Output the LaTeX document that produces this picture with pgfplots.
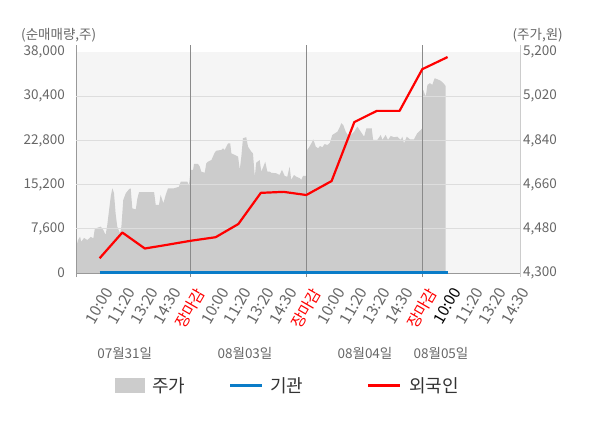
\documentclass[border=0pt]{standalone}
\usepackage{pgfplots}
\pgfplotsset{compat=1.18}
\usepackage{pgfplotstable}
\usepackage{fontspec}
\setmainfont{Noto Sans CJK KR}
\definecolor{txtgray}{HTML}{666666}
\definecolor{legtxt}{HTML}{333333}
\definecolor{areagray}{HTML}{CCCCCC}
\definecolor{bggray}{HTML}{F5F5F5}
\definecolor{gridgray}{HTML}{DDDDDD}
\definecolor{axisgray}{HTML}{999999}
\definecolor{rightaxis}{HTML}{CCCCCC}
\definecolor{sepgray}{HTML}{8A8A8A}
\definecolor{blueline}{HTML}{0A7CC8}
\definecolor{redline}{HTML}{FF0000}

\pgfplotstableread{
x y
0.073 4401
0.16 4434
0.25 4448
0.30 4427
0.42 4443
0.56 4434
0.71 4447
0.82 4441
0.88 4478
0.99 4484
1.14 4489
1.25 4475
1.35 4455
1.42 4495
1.50 4557
1.57 4611
1.64 4645
1.71 4625
1.78 4543
1.85 4489
1.97 4462
2.03 4489
2.11 4597
2.22 4625
2.36 4641
2.43 4645
2.50 4563
2.65 4559
2.72 4604
2.79 4629
3.44 4629
3.51 4577
3.65 4577
3.72 4618
3.84 4584
3.94 4618
4.04 4645
4.30 4645
4.51 4651
4.59 4672
4.87 4672
4.94 4658
5.02 4720
5.12 4720
5.16 4744
5.33 4744
5.41 4733
5.47 4713
5.62 4708
5.69 4747
5.76 4753
5.91 4760
6.05 4790
6.12 4798
6.34 4801
6.41 4808
6.48 4801
6.55 4814
6.63 4828
6.72 4828
6.77 4787
6.91 4781
7.06 4774
7.13 4720
7.20 4774
7.27 4849
7.41 4853
7.49 4814
7.63 4794
7.70 4787
7.78 4692
7.84 4749
7.99 4760
8.06 4713
8.18 4740
8.23 4753
8.32 4713
8.42 4713
8.49 4708
8.71 4706
8.85 4699
8.95 4720
9.07 4695
9.18 4692
9.28 4733
9.35 4679
9.47 4699
9.57 4692
9.72 4686
9.78 4679
9.86 4695
10.00 4695
10.04 4801
10.12 4812
10.22 4828
10.30 4844
10.41 4814
10.51 4808
10.59 4817
10.69 4812
10.79 4825
10.91 4821
11.02 4831
11.12 4862
11.27 4871
11.34 4875
11.45 4896
11.51 4910
11.59 4903
11.70 4875
11.84 4855
12.06 4875
12.20 4896
12.35 4875
12.49 4855
12.59 4889
12.82 4889
12.88 4842
13.06 4842
13.21 4862
13.28 4842
13.42 4862
13.52 4842
13.64 4858
13.78 4853
13.92 4855
14.07 4842
14.14 4855
14.21 4828
14.33 4855
14.47 4844
14.64 4844
14.78 4869
14.93 4882
15.00 4889
15.04 5045
15.15 5018
15.22 5066
15.33 5073
15.43 5066
15.53 5093
15.65 5089
15.79 5083
15.91 5073
16.00 5062
}\pricedata

\pgfplotstableread{
x y
1.09 2530
2.07 6960
3.04 4210
4.02 4860
5.00 5530
6.09 6150
7.07 8420
8.04 13780
9.02 13950
10.00 13410
11.09 15810
12.07 25950
13.04 27880
14.02 27880
15.00 35050
16.09 37130
}\foreigndata

\pgfplotstableread{
x y
1.09 0
5.00 0
10.00 0
15.00 0
16.09 0
}\instdata

\begin{document}
\begin{tikzpicture}
\path[use as bounding box] (0pt,0pt) rectangle (600pt,428pt);

% price axis (right)
\begin{axis}[
  at={(76pt,155pt)}, anchor=south west,
  width=444pt, height=228pt, scale only axis,
  xmin=0.073, xmax=19.211,
  ymin=4300, ymax=5228.5,
  axis x line=none,
  axis y line*=right,
  y axis line style={color=rightaxis, line width=0.8pt},
  xtick=\empty,
  ytick={4300,4480,4660,4840,5020,5200},
  major tick length=0pt,
  scaled ticks=false,
  yticklabel style={font=\fontsize{13.5}{15}\selectfont, text=txtgray, anchor=west, inner sep=0pt, xshift=3pt},
  /pgf/number format/1000 sep={,},
  /pgf/number format/assume math mode=true,
]
\fill[bggray] (axis cs:0.073,4300) rectangle (axis cs:19.211,5200);
\addplot[fill=areagray, draw=none] table {\pricedata} \closedcycle;
\end{axis}

% volume axis (left)
\begin{axis}[
  at={(76pt,155pt)}, anchor=south west,
  width=444pt, height=228pt, scale only axis,
  xmin=0.073, xmax=19.211,
  ymin=0, ymax=39205,
  axis x line*=bottom,
  axis y line*=left,
  x axis line style={color=axisgray, line width=0.8pt},
  y axis line style={color=axisgray, line width=0.8pt},
  clip=false,
  scaled ticks=false,
  major tick length=0pt,
  xtick={1.09,2.07,3.04,4.02,5,6.09,7.07,8.04,9.02,10,11.09,12.07,13.04,14.02,15,16.09,17.07,18.04,19.02},
  xticklabels={10:00,11:20,13:20,14:30,\textcolor{redline}{장마감},10:00,11:20,13:20,14:30,\textcolor{redline}{장마감},10:00,11:20,13:20,14:30,\textcolor{redline}{장마감},\textcolor{black}{10:00},11:20,13:20,14:30},
  xticklabel style={font=\fontsize{15.5}{17}\selectfont, text=txtgray, xshift=4pt, yshift=-13pt, rotate=60, anchor=north east, inner sep=0pt},
  ytick={0,7600,15200,22800,30400,38000},
  extra y ticks={7600,15200,22800,30400},
  extra y tick labels={},
  extra y tick style={grid=major},
  major grid style={color=gridgray, line width=0.8pt},
  yticklabel style={font=\fontsize{13.5}{15}\selectfont, text=txtgray, anchor=east, inner sep=0pt, xshift=-11pt},
  /pgf/number format/1000 sep={,},
  /pgf/number format/assume math mode=true,
]
\draw[sepgray, line width=0.8pt] (axis cs:5,-700) -- (axis cs:5,39205);
\draw[sepgray, line width=0.8pt] (axis cs:10,-700) -- (axis cs:10,39205);
\draw[sepgray, line width=0.8pt] (axis cs:15,-700) -- (axis cs:15,39205);
\draw[axisgray, line width=0.8pt] (axis cs:0.073,-700) -- (axis cs:0.073,0);
\draw[rightaxis, line width=0.8pt] (axis cs:19.211,-700) -- (axis cs:19.211,0);
\addplot[blueline, line width=3pt] table {\instdata};
\addplot[redline, line width=2.2pt, line join=round] table {\foreigndata};
\end{axis}

% axis titles
\node[anchor=west, inner sep=0pt, text=txtgray, font=\fontsize{13.5}{15}\selectfont] at (21pt,393pt) {(순매매량,주)};
\node[anchor=east, inner sep=0pt, text=txtgray, font=\fontsize{13.5}{15}\selectfont] at (563pt,393pt) {(주가,원)};

% date labels
\node[inner sep=0pt, text=txtgray, font=\fontsize{13.5}{15}\selectfont] at (124.7pt,75pt) {07월31일};
\node[inner sep=0pt, text=txtgray, font=\fontsize{13.5}{15}\selectfont] at (245pt,75pt) {08월03일};
\node[inner sep=0pt, text=txtgray, font=\fontsize{13.5}{15}\selectfont] at (365pt,75pt) {08월04일};
\node[inner sep=0pt, text=txtgray, font=\fontsize{13.5}{15}\selectfont] at (441pt,75pt) {08월05일};

% legend
\fill[areagray] (115pt,35pt) rectangle (145pt,50pt);
\node[anchor=west, inner sep=0pt, text=legtxt, font=\fontsize{18}{20}\selectfont] at (152pt,42pt) {주가};
\draw[blueline, line width=3pt] (230pt,42pt) -- (262pt,42pt);
\node[anchor=west, inner sep=0pt, text=legtxt, font=\fontsize{18}{20}\selectfont] at (270pt,42pt) {기관};
\draw[redline, line width=3pt] (368pt,42pt) -- (400pt,42pt);
\node[anchor=west, inner sep=0pt, text=legtxt, font=\fontsize{18}{20}\selectfont] at (409pt,42pt) {외국인};
\end{tikzpicture}
\end{document}
